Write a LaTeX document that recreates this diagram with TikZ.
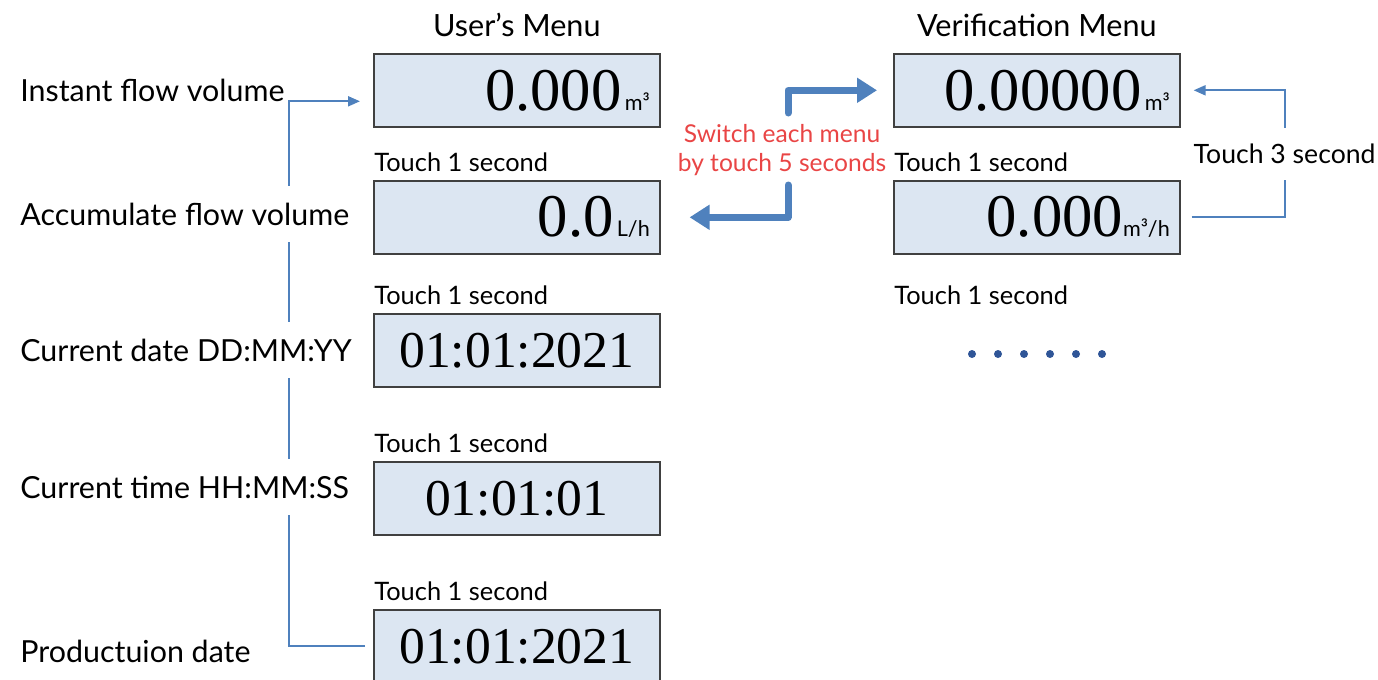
\documentclass[tikz,border=0pt]{standalone}
\usepackage{fontspec}
\setmainfont{Lato}
\newfontfamily\numfont{Liberation Serif}
\usetikzlibrary{arrows.meta, positioning}
\definecolor{lcdfill}{HTML}{DCE6F2}
\definecolor{linkblue}{HTML}{4F81BD}
\definecolor{dotblue}{HTML}{2F5597}
\definecolor{hintred}{HTML}{E94545}
\newcommand{\lcdnum}{\numfont\fontsize{30.3}{31}\selectfont}
\newcommand{\lcddate}{\numfont\fontsize{25.8}{27}\selectfont}
\newcommand{\lcdunit}{\fontsize{10.8}{12}\selectfont}

\begin{document}
\begin{tikzpicture}[x=0.5pt, y=-0.5pt,
    lcd/.style={draw=black!75, line width=0.8pt, fill=lcdfill, anchor=north west,
      text width=133pt, inner xsep=5pt, inner ysep=0pt, minimum height=36.5pt, align=right},
    lcdmid/.style={lcd, align=center},
    head/.style={inner sep=0pt, font=\fontsize{15.3}{18}\selectfont},
    touch/.style={anchor=south west, inner xsep=0.5pt, inner ysep=4pt, font=\fontsize{12.7}{15}\selectfont},
    item/.style={anchor=west, inner xsep=0pt, font=\fontsize{15.2}{18}\selectfont},
    gap/.style={item, fill=white, inner ysep=8.5pt},
    link/.style={linkblue, line width=1pt, -{Triangle[length=6pt, width=5pt]}},
    big/.style={linkblue, line width=3.5pt, line cap=round, line join=round, -{Triangle[length=10pt, width=12pt]}}]
  \useasboundingbox (0,0) rectangle (1378,680);

  \node[lcd] (u1) at (373,53) {{\lcdnum 0.000}\,{\lcdunit m³}\hspace*{12pt}};
  \node[lcd] (u2) at (373,180) {{\lcdnum 0.0}\,{\lcdunit L/h}};
  \node[lcdmid] (u3) at (373,313) {\lcddate 01:01:2021};
  \node[lcdmid] (u4) at (373,461) {\lcddate 01:01:01};
  \node[lcdmid] (u5) at (373,609) {\lcddate 01:01:2021};
  \node[lcd] (v1) at (893,53) {{\lcdnum 0.00000}\,{\lcdunit m³}};
  \node[lcd] (v2) at (893,180) {{\lcdnum 0.000}{\lcdunit m³/h}};

  \node[head, above=8pt of u1] (userhead) {User’s Menu};
  \node[head, above=8pt of v1] (verihead) {Verification Menu};

  \node[touch] (t2) at (u2.north west) {Touch 1 second};
  \node[touch] (t3) at (u3.north west) {Touch 1 second};
  \node[touch] (t4) at (u4.north west) {Touch 1 second};
  \node[touch] (t5) at (u5.north west) {Touch 1 second};
  \node[touch] (tv2) at (v2.north west) {Touch 1 second};
  \node[touch] (tv3) at (t3.south -| v2.west) {Touch 1 second};

  \draw[link, shorten >=6.5pt] ([xshift=-4pt]u5.west) -- ++(-76,0) |- ([yshift=-5.5pt]u1.west);
  \draw[link, shorten >=6.5pt] ([xshift=5.5pt]v2.east) -- ++(93,0)
    |- node[pos=0.25, fill=white, text=black, inner xsep=1pt, inner ysep=8pt, font=\fontsize{13.3}{16}\selectfont] (hold) {Touch 3 second} (v1.east);

  \node[item] (instant) at (20,90) {Instant flow volume};
  \node[gap] (accum) at (20,214) {Accumulate flow volume};
  \node[gap] (cdate) at (20,350) {Current date DD:MM:YY};
  \node[gap] (ctime) at (20,487) {Current time HH:MM:SS};
  \node[item] (pdate) at (20,651) {Productuion date};

  \node[text=hintred, align=center, font=\fontsize{12.3}{14.5}\selectfont] (switch) at (782,150) {Switch each menu\\by touch 5 seconds};
  \coordinate (up) at (788,113);
  \coordinate (down) at (788,185);
  \draw[big, shorten >=8pt] (up) |- (v1.west);
  \draw[big, shorten >=14.5pt] (down) |- (u2.east);

  \foreach \i in {0,...,5}
    \fill[dotblue] (972+26*\i,354) circle (2pt);
\end{tikzpicture}
\end{document}
